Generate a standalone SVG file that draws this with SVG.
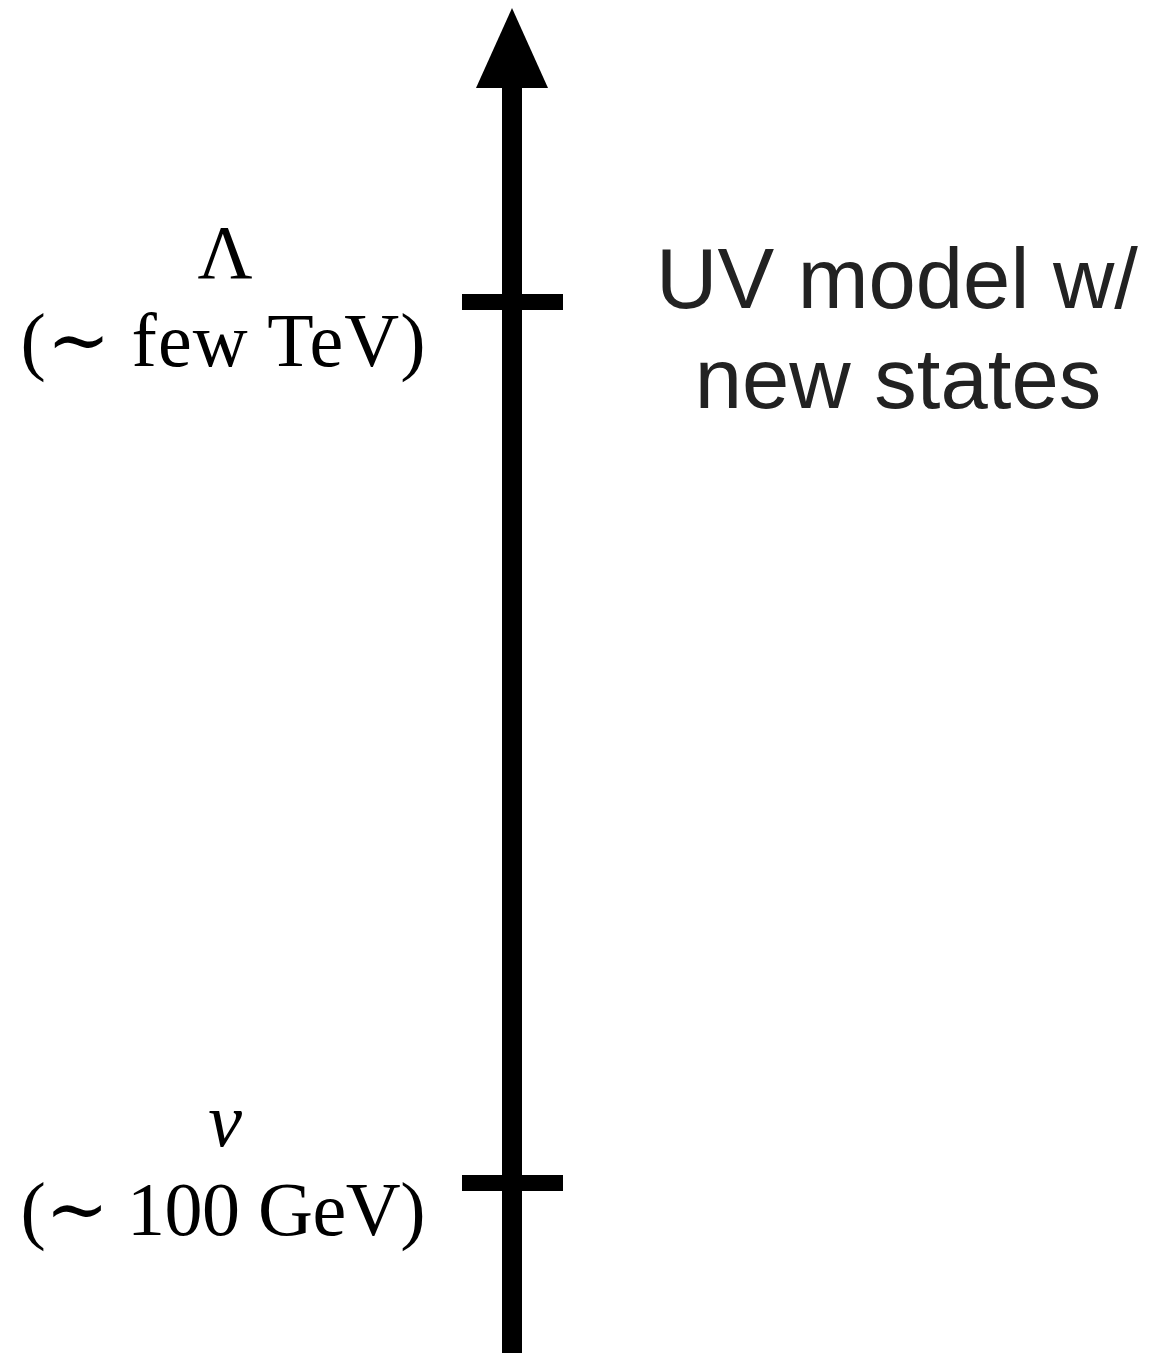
<svg xmlns="http://www.w3.org/2000/svg" width="1157" height="1353" viewBox="0 0 1157 1353">
<style>
.ax{stroke:#000;stroke-width:20;fill:none}
.tk{stroke:#000;stroke-width:16}
.tex{font-family:"Liberation Serif","DejaVu Serif",serif;font-size:76px;fill:#000;text-anchor:middle}
.lbl{font-family:"Liberation Sans",Arial,Helvetica,sans-serif;font-size:85px;fill:#222;text-anchor:middle}
</style>
<rect width="1157" height="1353" fill="#fff"/>
<g id="connectors">
<line class="ax" x1="512" y1="1353" x2="512" y2="80"/>
<polygon points="512,8 476,88 548,88" fill="#000"/>
</g>
<g id="tick-lambda">
<line class="tk" x1="462" y1="302" x2="563" y2="302"/>
<text class="tex" x="225" y="278">Λ</text>
<text class="tex" x="223" y="366" textLength="405">(∼ few TeV)</text>
</g>
<g id="tick-v">
<line class="tk" x1="462" y1="1183" x2="563" y2="1183"/>
<text class="tex" x="225" y="1146" font-style="italic">v</text>
<text class="tex" x="223" y="1235" textLength="405">(∼ 100 GeV)</text>
</g>
<g id="uv-label">
<text class="lbl" x="897" y="308">UV model w/</text>
<text class="lbl" x="898" y="408">new states</text>
</g>
</svg>
